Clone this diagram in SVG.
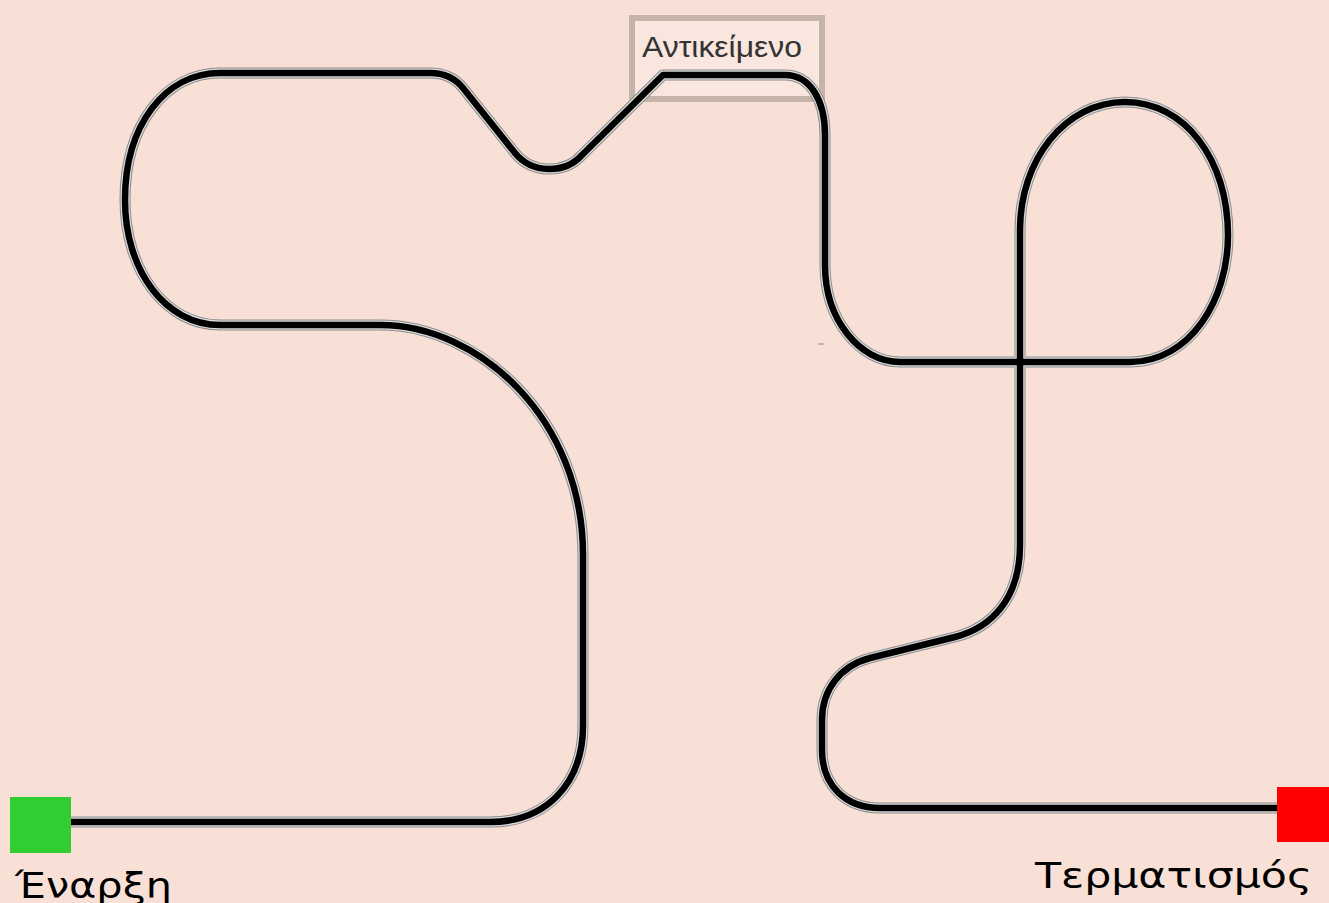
<svg xmlns="http://www.w3.org/2000/svg" width="1329" height="903" viewBox="0 0 1329 903">
<style>
.t{fill:none;stroke-linecap:butt;stroke-linejoin:round}
.o{stroke:#8c8c8c;stroke-width:11}
.m{stroke:#dcdcdc;stroke-width:9}
.c{stroke:#000;stroke-width:6.5}
.lbl{font-family:"DejaVu Sans","Open Sans",sans-serif;fill:#000}
</style>
<defs>
<path id="track" d="M71,822 H490 C545,822 583,785 583,725 V555 C583,420 480,325 380,325 H220 C165,325 125,270 125,200 C125,125 165,73 220,73 H430 C445,73 455,78 463,88 L515,153 C532,174 565,174 582,155 L663,75 H785 C810,75 825,100 825,135 V265 C825,320 860,362 900,362 H1130 C1190,362 1228,300 1228,235 C1228,160 1185,102 1125,102 C1065,102 1020,160 1020,230 V545 C1020,600 990,628 955,637 L870,658 C840,666 822,690 822,720 V750 C822,785 845,808 880,808 H1278"/>
</defs>
<rect width="1329" height="903" fill="#F8E0D6"/>
<g id="object">
<rect x="632" y="18" width="190" height="81" fill="#F9E6DE" stroke="#C6B3A9" stroke-width="6"/>
<text x="642" y="57" font-family="Liberation Sans, Arial, sans-serif" font-size="29" fill="#333" textLength="160" lengthAdjust="spacingAndGlyphs">Αντικείμενο</text>
</g>
<g id="connectors">
<use href="#track" class="t o"/>
<use href="#track" class="t m"/>
<use href="#track" class="t c"/>
</g>
<rect x="818" y="343" width="6" height="2" fill="#c8b8b0"/>
<g id="start">
<rect x="10" y="797" width="61" height="56" fill="#32CD32"/>
<text class="lbl" x="15" y="898" font-size="35" textLength="157" lengthAdjust="spacingAndGlyphs">Έναρξη</text>
</g>
<g id="finish">
<rect x="1277" y="787" width="52" height="55" fill="#FF0000"/>
<text class="lbl" x="1035" y="888" font-size="36" textLength="277" lengthAdjust="spacingAndGlyphs">Τερματισμός</text>
</g>
</svg>
